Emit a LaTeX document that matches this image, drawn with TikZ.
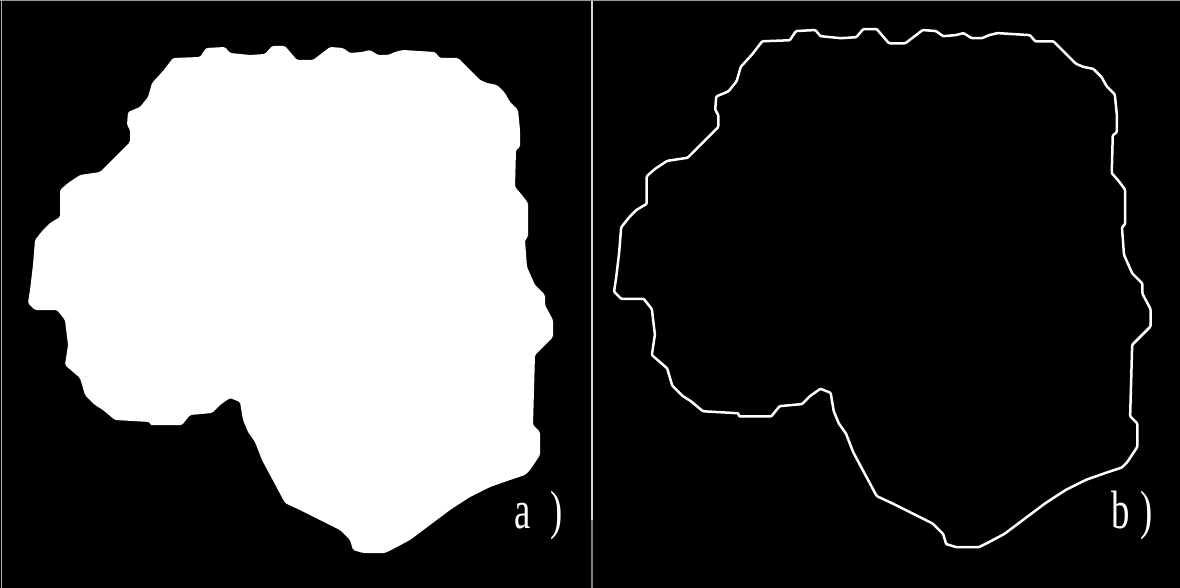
\documentclass[tikz,border=0pt]{standalone}
\usepackage{fontspec}
\setmainfont{Liberation Serif}
\definecolor{bgcol}{HTML}{000000}
\definecolor{blobcol}{HTML}{FFFFFF}
\definecolor{rulecol}{HTML}{D8D8D8}
\newcommand{\blobpath}{(173,58) -- (200,57) -- (206,48) -- (225,47) -- (230,53) -- (250,55)
  -- (265,54) -- (272,46) -- (285,46) -- (297,60) -- (313,60) -- (330,47) -- (343,48)
  -- (350,53) -- (362,52) -- (370,50) -- (378,55) -- (388,55) -- (395,52) -- (403,50)
  -- (435,52) -- (440,58) -- (458,58) -- (470,70) -- (480,80) -- (487,83) -- (497,85)
  -- (505,93) -- (510,102) -- (518,110) -- (520,130) -- (520,147) -- (516,150)
  -- (515,187) -- (522,195) -- (528,203) -- (528,237) -- (525,240) -- (527,267)
  -- (535,285) -- (545,295) -- (545,305) -- (553,320) -- (553,337) -- (545,345)
  -- (535,355) -- (533,425) -- (540,432) -- (540,455) -- (530,470) -- (525,475)
  -- (510,480) -- (490,487) -- (470,497) -- (450,510) -- (430,525) -- (410,540)
  -- (395,548) -- (385,553) -- (363,553) -- (353,550) -- (350,540) -- (340,530)
  -- (320,520) -- (300,510) -- (285,503) -- (270,475) -- (262,460) -- (255,442)
  -- (248,432) -- (243,420) -- (240,402) -- (230,398) -- (220,405) -- (212,413)
  -- (190,415) -- (182,425) -- (150,425) -- (150,422) -- (115,420) -- (103,410)
  -- (95,405) -- (85,395) -- (80,378) -- (65,365) -- (68,345) -- (65,320) -- (57,310)
  -- (35,310) -- (28,303) -- (30,290) -- (33,265) -- (35,240) -- (43,230) -- (50,223)
  -- (60,217) -- (60,190) -- (68,183) -- (80,175) -- (100,172) -- (115,157)
  -- (130,142) -- (130,130) -- (127,125) -- (128,112) -- (140,107) -- (148,97)
  -- (152,83) -- (163,71) -- cycle}

\begin{document}
\begin{tikzpicture}[x=1pt,y=-1pt,
  panellabel/.style={text=white,anchor=base west,inner sep=0pt,xscale=0.68,
    font=\fontsize{54}{54}\selectfont}]
\fill[bgcol] (0,0) rectangle (1180,588);
\useasboundingbox (0,0) rectangle (1180,588);
% filled region
\fill[blobcol,rounded corners=1.5pt] \blobpath;
% its boundary, slightly larger
\begin{scope}[shift={(585.4,-18)},scale=1.022]
\draw[blobcol,line width=2.5pt,line join=round,rounded corners=1pt] \blobpath;
\end{scope}
% divider and frame
\draw[rulecol,line width=1.4pt] (592,0) -- (592,520);
\draw[gray,line width=1.4pt] (592,520) -- (592,588);
\draw[gray!80,line width=1pt] (0,0.5) -- (1180,0.5);
\draw[gray!60,line width=1pt] (1.5,0) -- (1.5,588);
\node[panellabel] (la) at (514,528) {a\hspace{0.55em})};
\node[panellabel] (lb) at (1111,528) {b\hspace{0.3em})};
\end{tikzpicture}
\end{document}
